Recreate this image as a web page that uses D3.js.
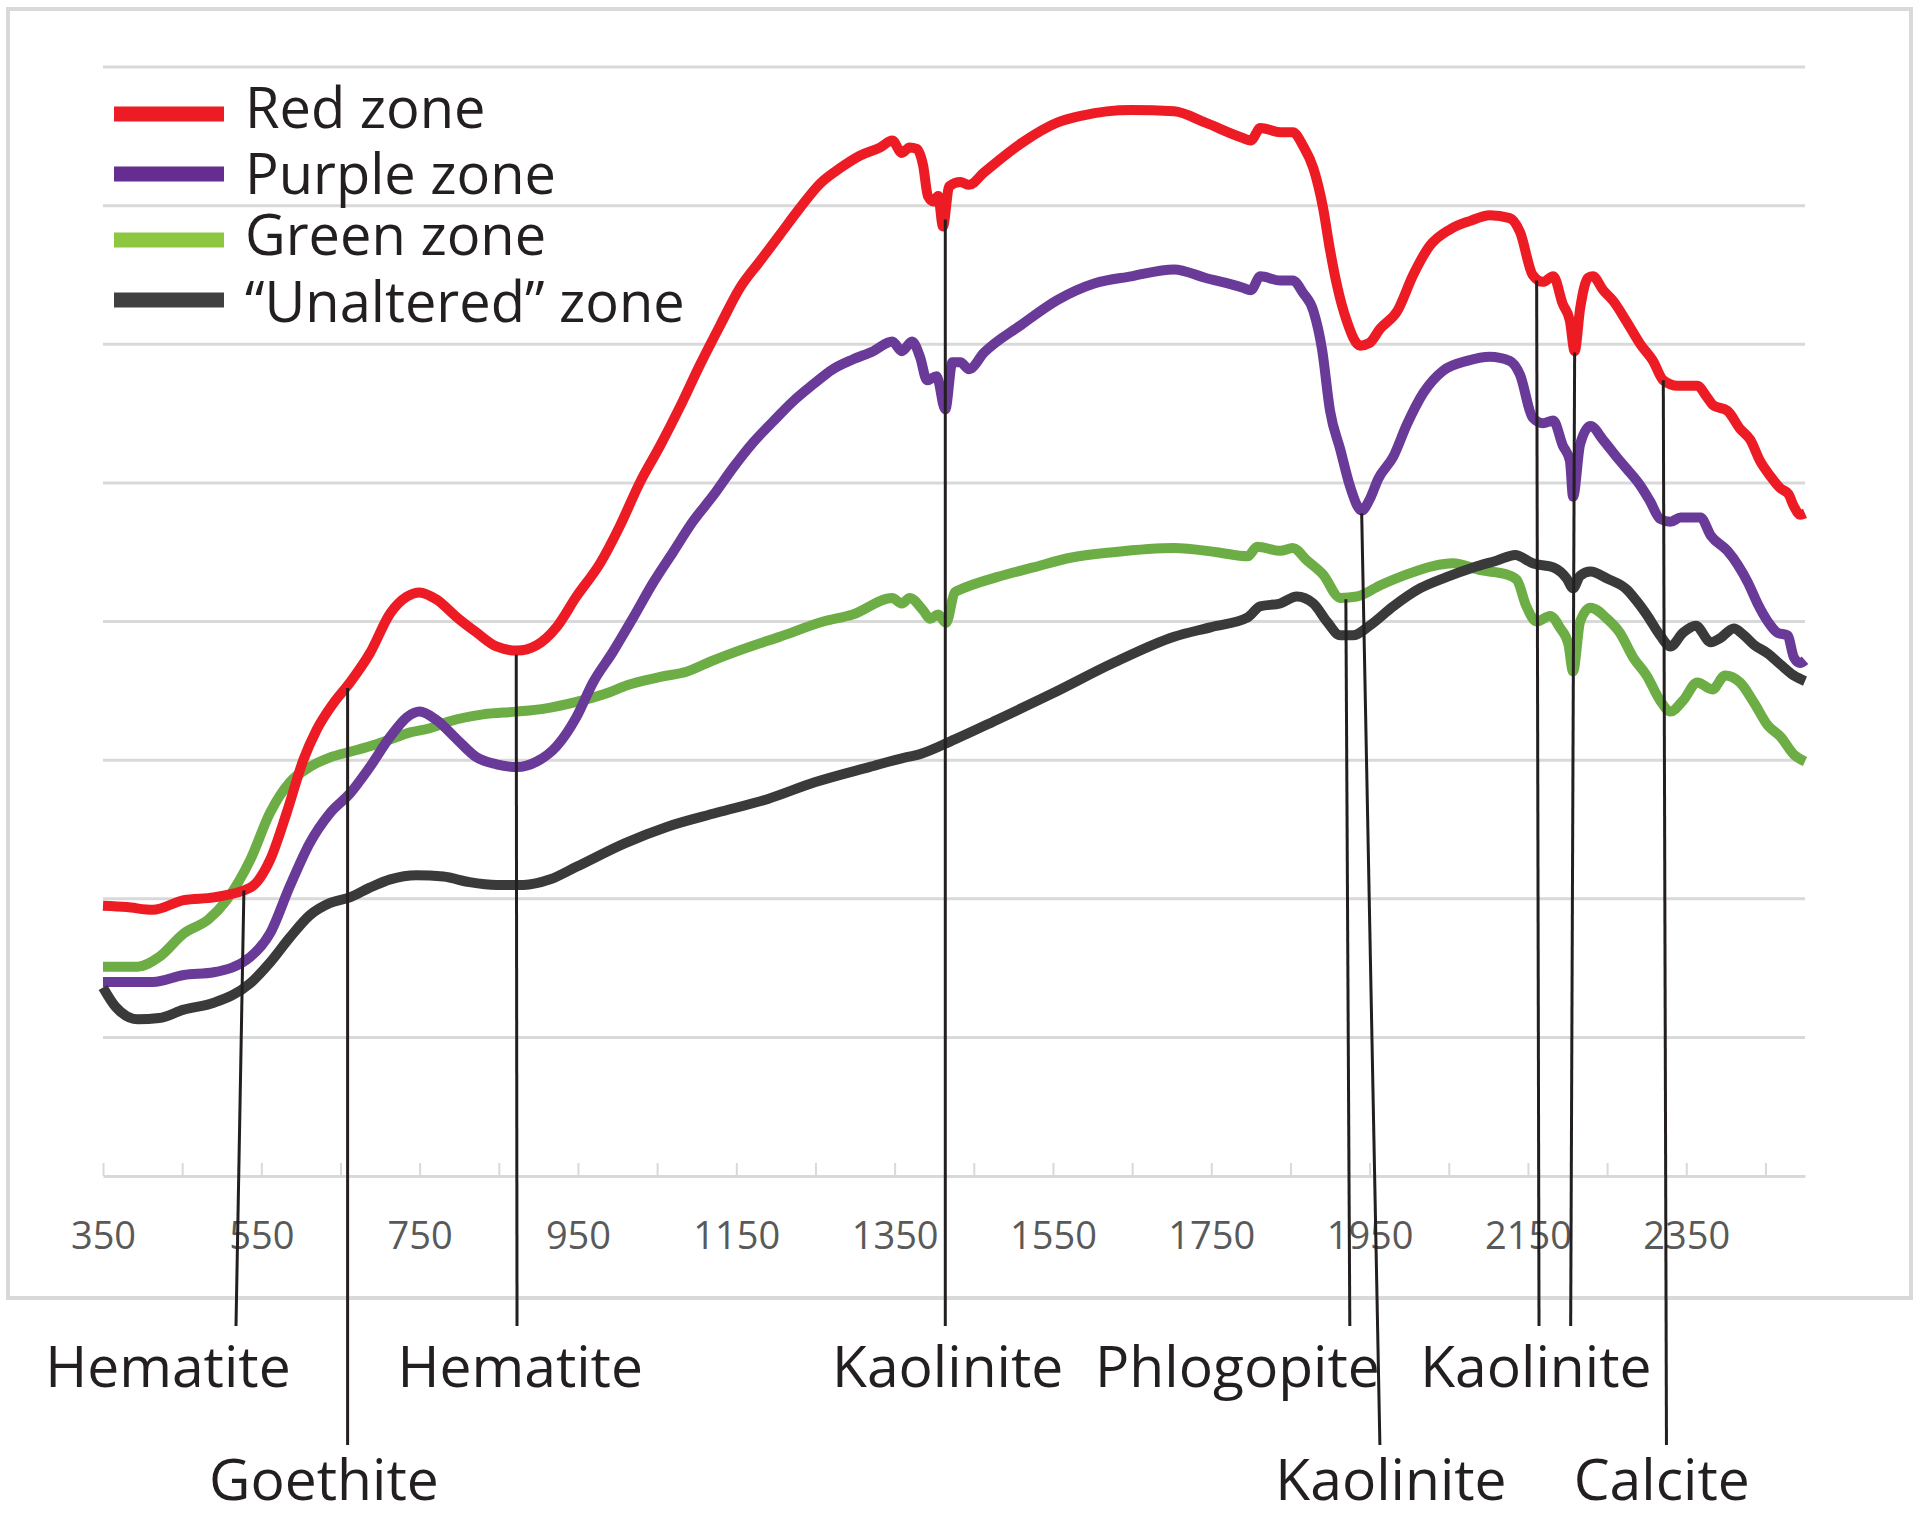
<!DOCTYPE html>
<html><head><meta charset="utf-8">
<script src="https://cdn.jsdelivr.net/npm/d3@7"></script>
<style>
html,body{margin:0;padding:0;background:#fff;}
svg{display:block;font-family:"Open Sans",sans-serif;}
</style></head>
<body>
<svg id="chart" width="1920" height="1518"></svg>
<script>
// ---- data (wavelength nm, reflectance %) ----
const seriesNames = ["Red zone", "Purple zone", "Green zone", "\u201cUnaltered\u201d zone"];

const redZone = [[350,19.5],[380,19.4],[413,19.2],[452,19.9],[490,20.1],[536,20.8],[561,22.8],[582,26.2],[603,30.0],[620,32.2],[641,34.1],[662,35.6],[687,37.7],[713,40.6],[734,41.8],[750,42.1],[771,41.6],[797,40.3],[822,39.2],[847,38.2],[873,37.9],[898,38.3],[923,39.6],[948,41.8],[978,44.2],[1003,46.9],[1028,50.0],[1054,52.7],[1079,55.5],[1104,58.5],[1129,61.3],[1155,64.1],[1180,66.0],[1205,67.9],[1230,69.8],[1256,71.6],[1281,72.7],[1306,73.6],[1332,74.2],[1347,74.7],[1359,73.8],[1369,74.2],[1378,74.1],[1386,72.9],[1392,70.7],[1399,70.3],[1405,70.7],[1411,68.5],[1419,71.4],[1433,71.7],[1444,71.5],[1463,72.4],[1510,74.5],[1556,76.0],[1587,76.5],[1649,76.9],[1703,76.8],[1742,76.0],[1789,74.9],[1800,74.7],[1812,75.6],[1837,75.3],[1853,75.3],[1866,74.3],[1879,72.7],[1891,69.9],[1900,66.8],[1909,64.2],[1921,61.7],[1938,59.9],[1950,60.1],[1963,61.1],[1985,62.4],[2005,65.0],[2026,67.1],[2052,68.3],[2077,68.9],[2102,69.3],[2127,69.1],[2140,68.1],[2156,65.0],[2169,64.5],[2182,64.9],[2194,62.9],[2203,61.7],[2209,59.5],[2216,62.6],[2226,64.8],[2232,64.9],[2245,63.9],[2258,63.1],[2275,61.6],[2292,60.0],[2308,58.8],[2321,57.4],[2339,57.0],[2364,57.0],[2376,56.2],[2384,55.6],[2402,55.2],[2418,53.9],[2431,53.1],[2443,51.6],[2456,50.5],[2469,49.6],[2479,49.2],[2486,48.3],[2494,47.7],[2500,47.8]];

const purpleZone = [[350,14.0],[413,14.0],[452,14.5],[490,14.7],[536,15.8],[561,17.5],[586,20.9],[611,24.0],[637,26.2],[662,27.6],[687,29.5],[713,31.7],[734,33.1],[750,33.5],[771,32.9],[797,31.5],[822,30.2],[847,29.7],[873,29.5],[898,29.9],[923,31.0],[948,33.1],[969,35.6],[994,37.8],[1020,40.3],[1045,42.8],[1070,45.0],[1095,47.2],[1121,49.1],[1146,51.1],[1171,52.9],[1196,54.4],[1222,55.9],[1247,57.1],[1272,58.2],[1297,58.9],[1323,59.5],[1347,60.2],[1359,59.5],[1372,60.2],[1382,59.1],[1391,57.4],[1403,57.7],[1414,55.3],[1423,58.7],[1433,58.7],[1444,58.2],[1463,59.4],[1510,61.4],[1556,63.2],[1603,64.4],[1649,64.9],[1703,65.4],[1742,64.8],[1789,64.1],[1800,63.9],[1812,64.9],[1837,64.6],[1853,64.6],[1866,63.7],[1879,62.4],[1890,59.6],[1900,55.2],[1913,52.4],[1925,49.8],[1940,48.0],[1950,48.8],[1961,50.3],[1980,51.9],[1997,54.2],[2018,56.5],[2043,58.1],[2073,58.8],[2102,59.1],[2127,58.8],[2140,57.8],[2156,54.7],[2169,54.3],[2182,54.5],[2194,52.7],[2203,51.6],[2207,49.0],[2216,52.8],[2229,54.1],[2245,53.1],[2263,51.8],[2275,51.0],[2292,49.8],[2304,48.7],[2317,47.4],[2330,47.2],[2343,47.5],[2368,47.5],[2381,46.2],[2402,45.1],[2415,44.1],[2428,42.8],[2440,41.3],[2453,40.0],[2465,39.2],[2478,39.0],[2486,37.4],[2494,37.0],[2500,37.2]];

const greenZone = [[350,15.1],[394,15.1],[421,15.8],[452,17.5],[483,18.5],[506,19.9],[536,22.8],[561,26.2],[586,28.4],[611,29.5],[637,30.2],[662,30.6],[687,31.0],[713,31.5],[738,32.0],[763,32.3],[788,32.8],[830,33.3],[873,33.5],[906,33.7],[948,34.2],[990,34.9],[1012,35.4],[1054,36.0],[1088,36.4],[1121,37.2],[1163,38.1],[1205,38.9],[1260,40.0],[1297,40.5],[1347,41.7],[1359,41.3],[1369,41.7],[1386,40.8],[1395,40.2],[1405,40.5],[1415,39.9],[1426,42.1],[1433,42.3],[1479,43.2],[1525,43.9],[1572,44.6],[1626,45.0],[1703,45.3],[1757,45.0],[1796,44.7],[1808,45.4],[1837,45.1],[1853,45.3],[1871,44.4],[1891,43.4],[1913,41.7],[1934,41.8],[1963,42.6],[1997,43.4],[2030,44.0],[2055,44.2],[2090,43.7],[2123,43.4],[2136,43.0],[2148,41.1],[2161,40.0],[2178,40.4],[2191,39.5],[2201,38.4],[2207,36.4],[2216,40.0],[2229,41.0],[2250,40.2],[2266,39.2],[2283,37.4],[2300,36.1],[2317,34.3],[2330,33.5],[2346,34.3],[2364,35.6],[2383,35.1],[2399,36.1],[2418,35.6],[2436,34.1],[2453,32.5],[2469,31.7],[2486,30.4],[2500,29.9]];

const unalteredZone = [[350,13.6],[366,12.2],[394,11.3],[421,11.4],[452,12.0],[490,12.5],[536,13.9],[561,15.4],[586,17.2],[611,18.8],[637,19.7],[662,20.1],[687,20.8],[713,21.4],[746,21.7],[780,21.6],[813,21.2],[847,21.0],[881,21.0],[915,21.4],[948,22.3],[1009,24.0],[1063,25.2],[1125,26.2],[1190,27.2],[1249,28.4],[1318,29.5],[1364,30.2],[1380,30.4],[1426,31.5],[1479,32.9],[1549,34.8],[1626,37.0],[1703,38.9],[1750,39.6],[1796,40.3],[1812,41.1],[1837,41.3],[1858,41.8],[1879,41.3],[1896,40.0],[1913,39.0],[1929,39.0],[1950,39.7],[1980,41.1],[2014,42.4],[2047,43.2],[2081,43.9],[2111,44.4],[2134,44.8],[2156,44.2],[2182,43.9],[2199,43.1],[2207,42.4],[2216,43.3],[2229,43.6],[2250,43.1],[2275,42.3],[2287,41.5],[2300,40.5],[2317,39.0],[2330,38.2],[2346,39.2],[2362,39.7],[2381,38.5],[2393,38.8],[2410,39.5],[2423,39.0],[2436,38.3],[2453,37.7],[2469,36.9],[2486,36.1],[2500,35.7]];

// x axis ticks / labels
const tickValues = d3.range(350, 2451, 100);
const tickLabels = [350, 550, 750, 950, 1150, 1350, 1550, 1750, 1950, 2150, 2350];
const gridValues = [0, 10, 20, 30, 40, 50, 60, 70, 80];

// annotation leader lines: top point on spectrum (wl, value), bottom wl, row
const leaders = [
  {topWl:528, topVal:20.6, botWl:518, row:1},
  {topWl:659, topVal:35.2, botWl:659, row:2},
  {topWl:872, topVal:37.6, botWl:873, row:1},
  {topWl:1414, topVal:69.0, botWl:1414, row:1},
  {topWl:1920, topVal:41.6, botWl:1925, row:1},
  {topWl:1940, topVal:47.8, botWl:1963, row:2},
  {topWl:2161, topVal:64.6, botWl:2164, row:1},
  {topWl:2209, topVal:59.4, botWl:2204, row:1},
  {topWl:2321, topVal:57.4, botWl:2325, row:2}
];
const mineralLabels = [
  {text:"Hematite", wl:432, row:1},
  {text:"Goethite", wl:629, row:2},
  {text:"Hematite", wl:877, row:1},
  {text:"Kaolinite", wl:1417, row:1},
  {text:"Phlogopite", wl:1783, row:1},
  {text:"Kaolinite", wl:2160, row:1},
  {text:"Kaolinite", wl:1977, row:2},
  {text:"Calcite", wl:2319, row:2}
];

// ---- drawing ----
const svg = d3.select("#chart");
const x = d3.scaleLinear().domain([350, 2500]).range([103, 1805]);
const y = d3.scaleLinear().domain([0, 80]).range([1176, 67]);

// outer frame
svg.append("rect").attr("x", 8).attr("y", 9).attr("width", 1903).attr("height", 1289)
  .attr("fill", "none").attr("stroke", "#d9d9d9").attr("stroke-width", 4);

// gridlines
svg.append("g").selectAll("line").data(gridValues.slice(1)).join("line")
  .attr("x1", x(350)).attr("x2", x(2500))
  .attr("y1", d => y(d)).attr("y2", d => y(d))
  .attr("stroke", "#d9d9d9").attr("stroke-width", 3);

// x axis
const axis = d3.axisBottom(x).tickValues(tickValues)
  .tickSizeInner(-13).tickSizeOuter(0).tickPadding(46)
  .tickFormat(d => tickLabels.includes(d) ? d : "");
const ax = svg.append("g").attr("transform", `translate(0,${y(0)})`).call(axis);
ax.select(".domain").attr("stroke", "#d9d9d9").attr("stroke-width", 3);
ax.selectAll(".tick line").attr("stroke", "#d9d9d9").attr("stroke-width", 2);
ax.selectAll(".tick text").attr("fill", "#595959").attr("font-size", 38)
  .attr("font-family", "'Open Sans', sans-serif");

// spectra
const line = d3.line().x(d => x(d[0])).y(d => y(d[1])).curve(d3.curveMonotoneX);
const spectra = [
  {data: greenZone, color: "#6cad45"},
  {data: purpleZone, color: "#6a3a98"},
  {data: redZone, color: "#ed1c24"},
  {data: unalteredZone, color: "#3a3a3a"}
];
svg.append("g").selectAll("path").data(spectra).join("path")
  .attr("d", d => line(d.data)).attr("fill", "none")
  .attr("stroke", d => d.color).attr("stroke-width", 10)
  .attr("stroke-linejoin", "round").attr("stroke-linecap", "butt");

// legend
const legendColors = ["#ed1c24", "#662d91", "#8dc63f", "#404040"];
const lg = svg.append("g");
const legSwatchY = [114, 174, 240, 300];
const legTextY = [128, 194, 255, 322];
seriesNames.forEach((n, i) => {
  lg.append("line").attr("x1", 114).attr("x2", 224).attr("y1", legSwatchY[i]).attr("y2", legSwatchY[i])
    .attr("stroke", legendColors[i]).attr("stroke-width", 15);
  lg.append("text").attr("x", 245).attr("y", legTextY[i])
    .attr("font-size", 56).attr("fill", "#231f20").text(n);
});

// leader lines
const rowBottom = {1: 1326, 2: 1445};
svg.append("g").selectAll("line").data(leaders).join("line")
  .attr("x1", d => x(d.topWl)).attr("y1", d => y(d.topVal))
  .attr("x2", d => x(d.botWl)).attr("y2", d => rowBottom[d.row])
  .attr("stroke", "#231f20").attr("stroke-width", 3);

// mineral labels
const rowBaseline = {1: 1387, 2: 1500};
svg.append("g").selectAll("text").data(mineralLabels).join("text")
  .attr("x", d => x(d.wl)).attr("y", d => rowBaseline[d.row])
  .attr("text-anchor", "middle").attr("font-size", 57).attr("fill", "#231f20")
  .text(d => d.text);
</script>
</body></html>
